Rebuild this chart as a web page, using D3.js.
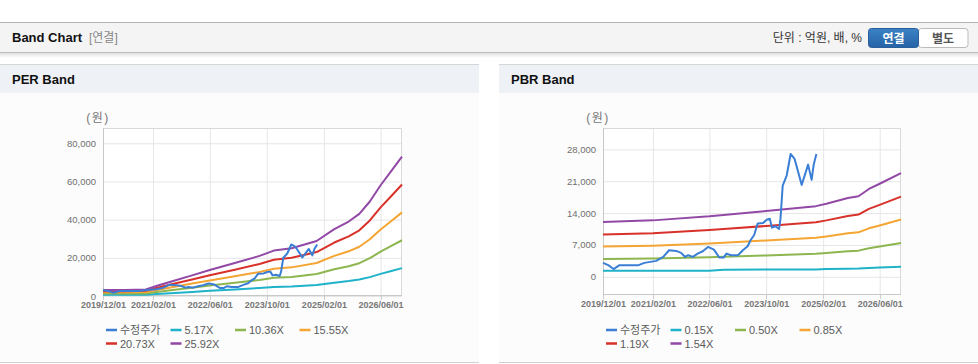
<!DOCTYPE html>
<html>
<head>
<meta charset="utf-8">
<script src="https://cdn.jsdelivr.net/npm/d3@7"></script>
<style>
  body { margin: 0; background: #fff; }
  svg text { font-family: "Liberation Sans", Arial, "Noto Sans CJK KR", sans-serif; }
</style>
</head>
<body>
<div id="vis"></div>
<script>
var W = 978, H = 364;

// series names shown in the legends
var perNames = ["수정주가", "5.17X", "10.36X", "15.55X", "20.73X", "25.92X"];
var pbrNames = ["수정주가", "0.15X", "0.50X", "0.85X", "1.19X", "1.54X"];
var colors = ["#3a7fd5", "#1fb2c9", "#8db650", "#f5a533", "#d8312a", "#9249a6"];

// adjusted price (same in both charts)
var priceDates = ["2019-12-01","2020-01-15","2020-03-01","2020-04-20","2020-10-01","2020-11-20",
  "2021-03-01","2021-05-01","2021-06-20","2021-08-20","2021-10-01","2021-11-05","2021-12-01",
  "2022-01-10","2022-02-20","2022-04-05","2022-05-20","2022-07-10","2022-08-25","2022-10-01",
  "2022-10-25","2022-12-05","2023-02-01","2023-03-15","2023-04-25","2023-05-20","2023-06-20",
  "2023-07-20","2023-09-05","2023-10-05","2023-11-01","2023-11-20","2023-12-20","2024-01-20",
  "2024-02-01","2024-02-20","2024-03-25","2024-04-28","2024-06-01","2024-08-01","2024-09-25",
  "2024-10-25","2024-11-12","2024-12-05"];
var priceValues = [3060,2560,1700,2560,2560,3060,
  3500,4370,5840,5690,5250,4370,4740,
  4370,5100,5620,6560,5980,4230,4230,
  5100,4740,4740,5840,6700,8020,9200,
  11700,11820,12550,12770,10800,11100,10500,
  12770,20060,22250,26990,25900,20200,24650,
  21300,24650,27000];

// PER band lines
var perDates = ["2019-12-01","2020-06-01","2020-12-01","2021-03-01","2021-07-01","2022-01-01",
  "2022-06-01","2023-01-01","2023-08-01","2023-12-01","2024-05-01","2024-12-01","2025-05-01",
  "2025-09-01","2025-12-01","2026-03-01","2026-06-01","2026-09-01","2026-12-01"];
var per517  = [650,650,700,1050,1500,2150,2700,3450,4200,4750,5000,5750,7000,7800,8600,9900,11600,13100,14600];
var per1036 = [1250,1300,1350,2100,3000,4300,5450,6900,8400,9500,10000,11500,14000,15600,17200,19800,23200,26200,29200];
var per1555 = [1900,1900,2050,3100,4500,6500,8150,10400,12600,14300,15000,17300,21000,23400,25800,29700,34800,39300,43800];
var per2073 = [2500,2550,2700,4150,6000,8650,10900,13800,16800,19000,20000,23000,28000,31200,34400,39600,46400,52400,58400];
var per2592 = [3150,3200,3400,5200,7500,10800,13600,17300,21000,23800,25000,28800,35000,39000,43000,49500,58000,65500,73000];

// PBR band lines
var pbrDates = ["2019-12-01","2021-02-01","2022-06-01","2022-10-01","2023-10-01","2024-12-01","2025-03-01",
  "2025-09-01","2025-12-01","2026-03-01","2026-06-01","2026-12-01"];
var pbr015 = [1310,1310,1310,1550,1600,1620,1700,1750,1800,1950,2050,2200];
var pbr050 = [3910,4030,4320,4420,4700,5050,5220,5620,5750,6270,6650,7410];
var pbr085 = [6640,6850,7330,7500,7980,8570,8860,9550,9770,10650,11290,12590];
var pbr119 = [9300,9590,10270,10500,11170,12000,12400,13370,13680,14920,15810,17620];
var pbr154 = [12030,12400,13280,13600,14450,15530,16050,17300,17700,19300,20450,22800];

// axis ticks
var xTickDates = ["2019-12-01","2021-02-01","2022-06-01","2023-10-01","2025-02-01","2026-06-01"];
var perTicks = [0, 20000, 40000, 60000, 80000];
var pbrTicks = [0, 7000, 14000, 21000, 28000];

var parse = d3.timeParse("%Y-%m-%d");
var fmtDate = d3.timeFormat("%Y/%m/%d");

var svg = d3.select("#vis").append("svg")
    .attr("width", W)
    .attr("height", H);

// top header bar
var defs = svg.append("defs");
var sh = defs.append("linearGradient").attr("id", "shadow").attr("x1", 0).attr("x2", 0).attr("y1", 0).attr("y2", 1);
sh.append("stop").attr("offset", "0%").attr("stop-color", "#000").attr("stop-opacity", 0.12);
sh.append("stop").attr("offset", "100%").attr("stop-color", "#000").attr("stop-opacity", 0);
var bg = defs.append("linearGradient").attr("id", "btn").attr("x1", 0).attr("x2", 0).attr("y1", 0).attr("y2", 1);
bg.append("stop").attr("offset", "0%").attr("stop-color", "#3b82c4");
bg.append("stop").attr("offset", "100%").attr("stop-color", "#2563a6");

svg.append("rect").attr("x", 0).attr("y", 22).attr("width", W).attr("height", 31).attr("fill", "#f4f4f4");
svg.append("line").attr("x1", 0).attr("x2", W).attr("y1", 22.5).attr("y2", 22.5).attr("stroke", "#b4b4b4");
svg.append("line").attr("x1", 0).attr("x2", W).attr("y1", 52.5).attr("y2", 52.5).attr("stroke", "#bdbdbd");
svg.append("rect").attr("x", 0).attr("y", 53).attr("width", W).attr("height", 5).attr("fill", "url(#shadow)");

svg.append("text").attr("x", 12).attr("y", 42)
    .attr("font-size", 13).attr("font-weight", "bold").attr("fill", "#111")
    .text("Band Chart");
svg.append("text").attr("x", 89).attr("y", 42)
    .attr("font-size", 12).attr("fill", "#888")
    .text("[연결]");
svg.append("text").attr("x", 862).attr("y", 42)
    .attr("font-size", 12).attr("fill", "#333").attr("text-anchor", "end")
    .text("단위 : 억원, 배, %");

// 연결 / 별도 buttons
svg.append("rect").attr("x", 918.5).attr("y", 28.5).attr("width", 49.5).attr("height", 19)
    .attr("rx", 3).attr("fill", "#fff").attr("stroke", "#bbb");
svg.append("rect").attr("x", 868.5).attr("y", 28.5).attr("width", 50).attr("height", 19)
    .attr("rx", 3).attr("fill", "url(#btn)").attr("stroke", "#2a5f9c");
svg.append("text").attr("x", 893.5).attr("y", 42.5).attr("text-anchor", "middle")
    .attr("font-size", 12).attr("font-weight", "bold").attr("fill", "#fff").text("연결");
svg.append("text").attr("x", 943).attr("y", 42.5).attr("text-anchor", "middle")
    .attr("font-size", 12).attr("font-weight", "bold").attr("fill", "#555").text("별도");

function toSeries(dates, values) {
  return dates.map(function(d, i) { return {date: parse(d), value: values[i]}; });
}

function drawBand(cfg) {
  var g = svg.append("g");

  // panel
  g.append("rect").attr("x", cfg.px).attr("y", 64).attr("width", cfg.pw).attr("height", 298).attr("fill", "#fcfcfc");
  g.append("rect").attr("x", cfg.px).attr("y", 64).attr("width", cfg.pw).attr("height", 29).attr("fill", "#eef2f7");
  g.append("line").attr("x1", cfg.px).attr("x2", cfg.px + cfg.pw).attr("y1", 64.5).attr("y2", 64.5).attr("stroke", "#d6d6d6");
  g.append("line").attr("x1", cfg.px).attr("x2", cfg.px + cfg.pw).attr("y1", 362.5).attr("y2", 362.5).attr("stroke", "#d0d0d0");
  g.append("text").attr("x", cfg.px + 12).attr("y", 84)
      .attr("font-size", 13).attr("font-weight", "bold").attr("fill", "#111")
      .text(cfg.title);

  var x = d3.scaleTime()
      .domain([parse("2019-12-01"), parse("2026-12-01")])
      .range([cfg.left, cfg.right]);
  var y = d3.scaleLinear()
      .domain(cfg.yDomain)
      .range([cfg.bottom, cfg.top]);

  // plot background
  g.append("rect").attr("x", cfg.left).attr("y", cfg.top)
      .attr("width", cfg.right - cfg.left).attr("height", cfg.bottom - cfg.top).attr("fill", "#fff");

  // y grid + labels
  var ya = g.append("g").attr("transform", "translate(" + cfg.left + ",0)")
      .call(d3.axisLeft(y).tickValues(cfg.yTicks).tickFormat(d3.format(","))
        .tickSizeInner(-(cfg.right - cfg.left)).tickSizeOuter(0).tickPadding(7));
  ya.select(".domain").remove();
  ya.selectAll(".tick line").attr("stroke", "#e6e6e6");
  ya.selectAll(".tick text").attr("font-size", 9.5).attr("fill", "#6f6f6f")
      .style("font-family", "'Liberation Sans', Arial, sans-serif");

  // x grid + labels
  var xa = g.append("g").attr("transform", "translate(0," + cfg.bottom + ")")
      .call(d3.axisBottom(x).tickValues(xTickDates.map(parse)).tickFormat(fmtDate)
        .tickSizeInner(-(cfg.bottom - cfg.top)).tickSizeOuter(0).tickPadding(6));
  xa.select(".domain").remove();
  xa.selectAll(".tick line").attr("stroke", "#e6e6e6");
  xa.selectAll(".tick text").attr("font-size", 9).attr("fill", "#777").attr("font-weight", "bold")
      .style("font-family", "'Liberation Sans', Arial, sans-serif");

  // small tick marks outside the plot
  g.selectAll(".xt").data(xTickDates).enter().append("line")
      .attr("x1", function(d) { return Math.round(x(parse(d))) + 0.5; })
      .attr("x2", function(d) { return Math.round(x(parse(d))) + 0.5; })
      .attr("y1", cfg.bottom).attr("y2", cfg.bottom + 4).attr("stroke", "#ccc");

  // frame
  g.append("rect").attr("x", cfg.left + 0.5).attr("y", cfg.top + 0.5)
      .attr("width", cfg.right - cfg.left - 1).attr("height", cfg.bottom - cfg.top - 1)
      .attr("fill", "none").attr("stroke", "#d9d9d9");
  g.append("line").attr("x1", cfg.left + 0.5).attr("x2", cfg.left + 0.5)
      .attr("y1", cfg.top).attr("y2", cfg.bottom).attr("stroke", "#c8c8c8");
  g.append("line").attr("x1", cfg.left).attr("x2", cfg.right)
      .attr("y1", cfg.bottom - 0.5).attr("y2", cfg.bottom - 0.5).attr("stroke", "#c8c8c8");

  g.append("text").attr("x", cfg.left - 5).attr("y", 122).attr("text-anchor", "middle")
      .attr("font-size", 12).attr("letter-spacing", 1.5).attr("fill", "#777").text("(원)");

  var line = d3.line()
      .x(function(d) { return x(d.date); })
      .y(function(d) { return y(d.value); });

  // bands first, price on top of them
  var plot = g.append("g");
  cfg.bands.forEach(function(vals, i) {
    plot.append("path").datum(toSeries(cfg.bandDates, vals))
        .attr("d", line).attr("fill", "none")
        .attr("stroke", colors[i + 1]).attr("stroke-width", 2)
        .attr("stroke-linejoin", "round");
  });
  plot.append("path").datum(toSeries(priceDates, priceValues))
      .attr("d", line).attr("fill", "none")
      .attr("stroke", colors[0]).attr("stroke-width", 2)
      .attr("stroke-linejoin", "round");

  // legend
  var leg = g.selectAll(".leg").data(cfg.names).enter().append("g")
      .attr("transform", function(d, i) {
        return "translate(" + (cfg.left + 3 + (i % 4) * 64.5) + "," + (330 + Math.floor(i / 4) * 13.5) + ")";
      });
  leg.append("line").attr("x1", 0).attr("x2", 11).attr("y1", 0).attr("y2", 0)
      .attr("stroke", function(d, i) { return colors[i]; }).attr("stroke-width", 2.5);
  leg.append("text").attr("x", 14).attr("y", 4)
      .attr("font-size", 11).attr("fill", "#5a5a5a").text(function(d) { return d; });
}

drawBand({
  title: "PER Band", px: 0, pw: 479,
  left: 103, right: 402, top: 128, bottom: 296,
  yDomain: [0, 88000], yTicks: perTicks,
  bandDates: perDates, bands: [per517, per1036, per1555, per2073, per2592],
  names: perNames
});

drawBand({
  title: "PBR Band", px: 499, pw: 479,
  left: 603, right: 901, top: 128, bottom: 295,
  yDomain: [-4000, 32700], yTicks: pbrTicks,
  bandDates: pbrDates, bands: [pbr015, pbr050, pbr085, pbr119, pbr154],
  names: pbrNames
});
</script>
</body>
</html>
